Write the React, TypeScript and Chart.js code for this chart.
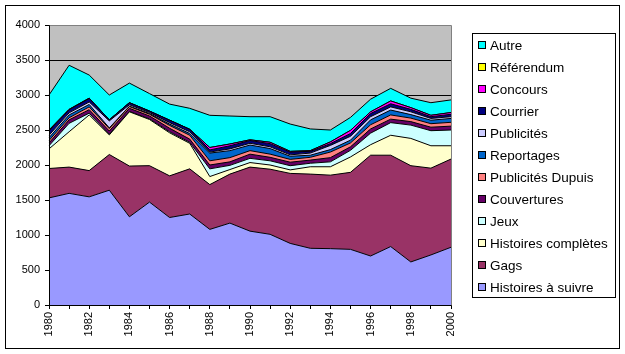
import React, { useEffect, useRef } from 'react';
import { Chart, registerables } from 'chart.js';

Chart.register(...registerables);

const years = ['1980', '1981', '1982', '1983', '1984', '1985', '1986', '1987', '1988', '1989', '1990',
  '1991', '1992', '1993', '1994', '1995', '1996', '1997', '1998', '1999', '2000'];

const histoiresASuivre = [1530, 1595, 1545, 1640, 1260, 1470, 1250, 1300, 1080, 1170, 1055, 1010, 880, 810, 805, 795, 700, 835, 615, 715, 825];
const gags = [420, 375, 375, 510, 725, 520, 595, 645, 640, 700, 915, 930, 1000, 1060, 1050, 1100, 1440, 1305, 1375, 1240, 1260];
const histoiresCompletes = [280, 505, 795, 280, 775, 660, 615, 365, 115, 65, 65, 60, 50, 105, 120, 220, 150, 285, 390, 320, 190];
const jeux = [45, 120, 25, 10, 5, 10, 15, 15, 110, 60, 60, 60, 60, 50, 70, 95, 165, 180, 190, 215, 225];
const couvertures = [40, 50, 50, 45, 45, 40, 50, 45, 55, 50, 60, 50, 50, 45, 60, 50, 60, 50, 50, 50, 55];
const publicitesDupuis = [35, 30, 40, 35, 25, 25, 40, 55, 60, 60, 50, 45, 40, 40, 80, 55, 60, 60, 50, 50, 55];
const reportages = [40, 40, 35, 10, 5, 10, 20, 25, 110, 100, 80, 80, 45, 30, 35, 40, 70, 70, 50, 50, 55];
const publicites = [35, 30, 35, 100, 20, 15, 20, 25, 15, 25, 25, 25, 20, 30, 60, 55, 45, 45, 40, 25, 25];
const courrier = [60, 45, 50, 15, 30, 20, 35, 35, 30, 45, 40, 45, 40, 25, 25, 40, 45, 45, 35, 25, 35];
const concours = [15, 5, 5, 0, 0, 0, 0, 0, 35, 25, 10, 20, 10, 10, 25, 45, 25, 40, 25, 20, 25];
const referendum = [0, 0, 0, 0, 0, 0, 0, 0, 0, 0, 0, 0, 0, 0, 0, 0, 0, 0, 0, 0, 0];
const autre = [500, 630, 330, 355, 280, 250, 230, 300, 460, 400, 330, 365, 390, 310, 170, 185, 180, 180, 135, 180, 180];

const seriesLabels = ['Histoires à suivre', 'Gags', 'Histoires complètes', 'Jeux', 'Couvertures',
  'Publicités Dupuis', 'Reportages', 'Publicités', 'Courrier', 'Concours', 'Référendum', 'Autre'];
const seriesData = [histoiresASuivre, gags, histoiresCompletes, jeux, couvertures, publicitesDupuis,
  reportages, publicites, courrier, concours, referendum, autre];
const seriesColors = ['#9999FF', '#993366', '#FFFFCC', '#CCFFFF', '#660066', '#FF8080',
  '#0066CC', '#CCCCFF', '#000080', '#FF00FF', '#FFFF00', '#00FFFF'];

const yTicks = [0, 500, 1000, 1500, 2000, 2500, 3000, 3500, 4000];

const FONT = '"Liberation Sans", Arial, sans-serif';

const framePlugin = {
  id: 'frame',
  beforeDraw(chart: any) {
    const { ctx, chartArea } = chart;
    ctx.save();
    ctx.fillStyle = '#FFFFFF';
    ctx.fillRect(0, 0, chart.width, chart.height);
    ctx.strokeStyle = '#000';
    ctx.lineWidth = 1;
    ctx.strokeRect(5.5, 5.5, 614, 343);
    ctx.fillStyle = '#C0C0C0';
    ctx.fillRect(chartArea.left, chartArea.top, chartArea.right - chartArea.left, chartArea.bottom - chartArea.top);
    ctx.restore();
  },
  afterDatasetsDraw(chart: any) {
    const { ctx, chartArea } = chart;
    const l = Math.round(chartArea.left) + 0.5;
    const r = Math.round(chartArea.right) + 0.5;
    const t = Math.round(chartArea.top) + 0.5;
    const b = Math.round(chartArea.bottom) + 0.5;
    ctx.save();
    ctx.lineWidth = 1;
    ctx.strokeStyle = '#808080';
    ctx.beginPath();
    ctx.moveTo(l, t);
    ctx.lineTo(r, t);
    ctx.lineTo(r, b);
    ctx.stroke();
    ctx.strokeStyle = '#000';
    ctx.beginPath();
    ctx.moveTo(l, t);
    ctx.lineTo(l, b);
    ctx.lineTo(r, b);
    ctx.stroke();
    ctx.restore();
  },
  afterDraw(chart: any) {
    const { ctx } = chart;
    ctx.save();
    ctx.strokeStyle = '#000';
    ctx.lineWidth = 1;
    ctx.strokeRect(472.5, 33.5, 143, 264);
    const ds = chart.data.datasets.slice().reverse();
    ctx.font = '13.5px ' + FONT;
    ctx.textBaseline = 'middle';
    ctx.textAlign = 'left';
    ds.forEach((d: any, i: number) => {
      const cy = 45 + i * 22;
      ctx.fillStyle = d.backgroundColor;
      ctx.fillRect(478, cy - 3, 7, 7);
      ctx.strokeRect(478.5, cy - 3.5, 7, 7);
      ctx.fillStyle = '#000';
      ctx.fillText(d.label, 490, cy + 1);
    });
    ctx.restore();
  },
};

export default function App() {
  const ref = useRef<HTMLCanvasElement | null>(null);
  useEffect(() => {
    if (!ref.current) return;
    const chart = new Chart(ref.current, {
      type: 'line',
      data: {
        labels: years,
        datasets: seriesLabels.map((label, i) => ({
          label,
          data: seriesData[i],
          backgroundColor: seriesColors[i],
          borderColor: '#000000',
          borderWidth: 1,
          fill: i === 0 ? 'origin' : '-1',
          pointRadius: 0,
          pointHoverRadius: 0,
          tension: 0,
        })),
      },
      options: {
        responsive: false,
        animation: false,
        events: [],
        layout: { padding: { left: 0, top: 25, right: 174, bottom: 0 } },
        plugins: {
          legend: { display: false },
          tooltip: { enabled: false },
        },
        scales: {
          x: {
            type: 'category',
            offset: false,
            border: { display: false },
            grid: { display: true, drawOnChartArea: false, drawTicks: true, tickLength: 4, color: '#000' },
            ticks: {
              autoSkip: false,
              minRotation: 90,
              maxRotation: 90,
              padding: 3,
              color: '#000',
              font: { size: 11, family: FONT },
              callback: (_v: any, i: number) => (i % 2 === 0 ? years[i] : ''),
            },
            afterFit: (s: any) => { s.height = 49; },
          },
          y: {
            stacked: true,
            min: yTicks[0],
            max: yTicks[yTicks.length - 1],
            border: { display: false },
            grid: { color: '#000', tickLength: 4, lineWidth: 1 },
            afterBuildTicks: (s: any) => { s.ticks = yTicks.map((v) => ({ value: v })); },
            ticks: {
              padding: 5,
              color: '#000',
              font: { size: 11, family: FONT },
              callback: (v: any) => String(v),
            },
            afterFit: (s: any) => { s.width = 49; },
          },
        },
      },
      plugins: [framePlugin],
    } as any);
    return () => chart.destroy();
  }, []);
  return (
    <div style={{ position: 'fixed', left: 0, top: 0, width: 625, height: 354 }}>
      <canvas ref={ref} width={625} height={354} style={{ display: 'block', width: 625, height: 354 }} />
    </div>
  );
}
